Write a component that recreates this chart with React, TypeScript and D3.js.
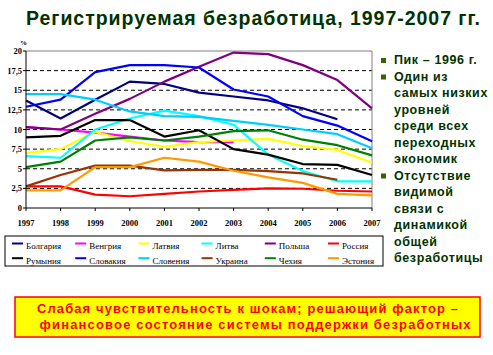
import React from "react";
import * as d3 from "d3";

const years = [1997, 1998, 1999, 2000, 2001, 2002, 2003, 2004, 2005, 2006, 2007];
const yTicks = [0, 2.5, 5, 7.5, 10, 12.5, 15, 17.5, 20];
const yTickLabels = ["0", "2,5", "5", "7,5", "10", "12,5", "15", "17,5", "20"];

const countries = ["Болгария", "Венгрия", "Латвия", "Литва", "Польша", "Россия", "Румыния", "Словакия", "Словения", "Украина", "Чехия", "Эстония"];
const colors = ["#000080", "#FF00FF", "#FFFF00", "#00FFFF", "#800080", "#FF0000", "#000000", "#0000FF", "#00CCFF", "#993300", "#008000", "#FF9900"];

const bulgaria = [13.7, 11.4, 13.8, 16.1, 15.8, 14.7, 14.2, 13.7, 12.7, 11.3, null];
const hungary = [10.3, 10.0, 9.6, 9.1, 8.6, 8.4, 8.4, null, null, null, null];
const latvia = [7.0, 7.5, 9.7, 8.5, 7.8, 8.4, 8.6, 8.8, 7.9, 7.4, 5.8];
const lithuania = [6.6, 6.4, 10.0, 11.4, 12.4, 11.7, 10.6, 6.8, 4.7, 3.4, 3.4];
const poland = [10.3, 10.0, 12.0, 13.9, 16.1, 18.0, 19.8, 19.6, 18.2, 16.3, 12.7];
const russia = [2.75, 2.75, 1.7, 1.5, 1.8, 2.1, 2.3, 2.5, 2.45, 2.2, 2.1];
const romania = [9.0, 9.2, 11.2, 11.2, 9.1, 9.9, 7.5, 6.8, 5.6, 5.5, 4.2];
const slovakia = [12.9, 13.8, 17.3, 18.2, 18.2, 17.9, 15.1, 14.2, 11.7, 10.5, 8.5];
const slovenia = [14.5, 14.5, 13.8, 12.3, 11.7, 11.6, 11.1, 10.6, 10.0, 9.4, 7.6];
const ukraine = [2.75, 4.2, 5.4, 5.4, 4.8, 4.85, 4.85, 4.7, 4.4, 3.6, null];
const czech = [5.2, 5.9, 8.6, 9.0, 8.6, 9.1, 9.8, 9.9, 8.7, 8.0, 6.7];
const estonia = [2.25, 2.25, 5.2, 5.2, 6.4, 5.9, 4.75, 3.9, 3.2, 1.8, 1.6];

const seriesValues = [bulgaria, hungary, latvia, lithuania, poland, russia, romania, slovakia, slovenia, ukraine, czech, estonia];

const title = "Регистрируемая безработица, 1997-2007 гг.";
const bulletLines: { text: string; bullet: boolean }[] = [
  { text: "Пик – 1996 г.", bullet: true },
  { text: "Один из", bullet: true },
  { text: "самых низких", bullet: false },
  { text: "уровней", bullet: false },
  { text: "среди всех", bullet: false },
  { text: "переходных", bullet: false },
  { text: "экономик", bullet: false },
  { text: "Отсутствие", bullet: true },
  { text: "видимой", bullet: false },
  { text: "связи с", bullet: false },
  { text: "динамикой", bullet: false },
  { text: "общей", bullet: false },
  { text: "безработицы", bullet: false },
];
const bottomLines = [
  "Слабая чувствительность к шокам; решающий фактор –",
  "финансовое состояние системы поддержки безработных",
];

export default function App() {
  const W = 493, H = 355;
  const left = 26, right = 372, top = 51, bottom = 208;
  const x = d3.scalePoint<number>().domain(years).range([left, right]);
  const y = d3.scaleLinear().domain([0, 20]).range([bottom, top]);
  const line = d3
    .line<number | null>()
    .defined((d) => d !== null)
    .x((_, i) => x(years[i]) as number)
    .y((d) => y(d as number));

  const serif = "'Liberation Serif', 'Times New Roman', serif";
  const sans = "'Liberation Sans', Arial, sans-serif";

  return (
    <svg width={W} height={H} style={{ position: "absolute", left: 0, top: 0, background: "#fff" }}>
      <rect x={0} y={0} width={W} height={H} fill="#fff" />
      <text x={26} y={25} fontFamily={sans} fontWeight="bold" fontSize={19.5} fill="#003300" textLength={454} lengthAdjust="spacing">
        {title}
      </text>

      {/* gridlines */}
      {yTicks.filter((t) => t > 0 && t < 20).map((t) => (
        <line key={t} x1={left} x2={right} y1={y(t)} y2={y(t)} stroke="#000" strokeWidth={1} strokeDasharray="4,3" />
      ))}
      <line x1={left} x2={right} y1={y(20)} y2={y(20)} stroke="#808080" strokeWidth={1} />
      <line x1={right} x2={right} y1={y(20)} y2={y(0)} stroke="#808080" strokeWidth={1} />

      {/* series */}
      {seriesValues.map((vals, i) => (
        <path key={countries[i]} d={line(vals) || ""} fill="none" stroke={colors[i]} strokeWidth={2.2} strokeLinejoin="round" />
      ))}

      {/* axes */}
      <line x1={left} x2={left} y1={y(20)} y2={y(0)} stroke="#000" strokeWidth={1} />
      <line x1={left} x2={right} y1={y(0)} y2={y(0)} stroke="#000" strokeWidth={1} />
      {yTicks.map((t, i) => (
        <g key={t}>
          <line x1={left - 3} x2={left} y1={y(t)} y2={y(t)} stroke="#000" />
          <text x={22} y={y(t) + 3} textAnchor="end" fontFamily={serif} fontWeight="bold" fontSize={8.5} fill="#000">
            {yTickLabels[i]}
          </text>
        </g>
      ))}
      <text x={20} y={45} fontFamily={serif} fontWeight="bold" fontSize={7} fill="#000">%</text>
      {years.map((yr) => (
        <g key={yr}>
          <line x1={x(yr)} x2={x(yr)} y1={bottom} y2={bottom + 3} stroke="#000" />
          <text x={x(yr)} y={226} textAnchor="middle" fontFamily={serif} fontWeight="bold" fontSize={8.5} fill="#000">
            {yr}
          </text>
        </g>
      ))}

      {/* legend */}
      <rect x={5} y={236} width={378} height={30} fill="#fff" stroke="#000" strokeWidth={1} />
      {countries.map((c, i) => {
        const col = i % 6;
        const row = Math.floor(i / 6);
        const lx = 12 + col * 63.2;
        const ly = 243.5 + row * 14.7;
        return (
          <g key={c}>
            <line x1={lx} x2={lx + 11} y1={ly} y2={ly} stroke={colors[i]} strokeWidth={2} />
            <text x={lx + 14} y={ly + 5.5} fontFamily={serif} fontSize={9} fill="#000">
              {c}
            </text>
          </g>
        );
      })}

      {/* right bullets */}
      {bulletLines.map((b, i) => {
        const by = 64 + i * 16.5;
        return (
          <g key={i}>
            {b.bullet && <rect x={381} y={by - 6} width={5} height={5} fill="#336600" />}
            <text x={394} y={by} fontFamily={sans} fontWeight="bold" fontSize={12.5} letterSpacing={0.6} fill="#003300">
              {b.text}
            </text>
          </g>
        );
      })}

      {/* bottom box */}
      <rect x={15} y={297} width={465} height={40} fill="#FFFF00" stroke="#FF0000" strokeWidth={1.5} />
      <text x={37} y={312.5} fontFamily={sans} fontWeight="bold" fontSize={13} fill="#FF0000" textLength={421} lengthAdjust="spacing">
        {bottomLines[0]}
      </text>
      <text x={39.5} y={328.5} fontFamily={sans} fontWeight="bold" fontSize={13} fill="#FF0000" textLength={431} lengthAdjust="spacing">
        {bottomLines[1]}
      </text>
    </svg>
  );
}
